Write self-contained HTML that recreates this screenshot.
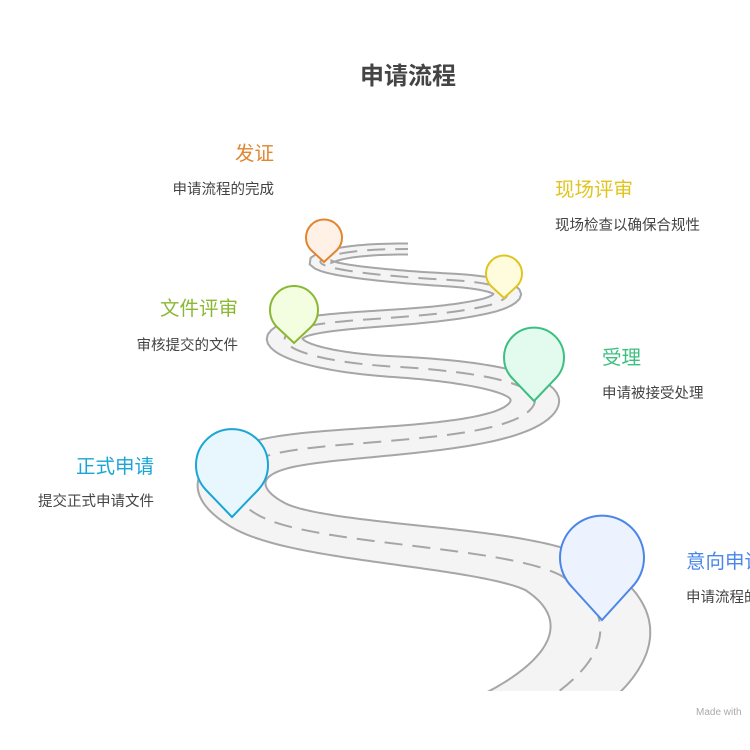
<!DOCTYPE html>
<html><head><meta charset="utf-8"><style>
body{margin:0;background:#fff;}
svg{display:block;font-family:"Liberation Sans","Noto Sans CJK SC",sans-serif;}
</style></head><body>
<svg id="s" width="750" height="750" viewBox="0 0 750 750" xmlns="http://www.w3.org/2000/svg">
<g transform="scale(1,0.5)" fill="none">
  <path id="road" fill="#f4f4f4" stroke="#a6a6a6" stroke-width="2" vector-effect="non-scaling-stroke" d=""/>
  <path id="center" stroke="#a6a6a6" stroke-width="2" vector-effect="non-scaling-stroke" stroke-dasharray="18 10" d="M512,1440 C620,1330 620,1220 560,1150 C500,1090 310,1090 258,1030 C214,980 224,920 295,900 C360,880 500,880 530,820 C555,770 480,744 400,734 C300,724 260,680 300,656 C340,634 430,640 490,610 C525,588 505,566 450,560 C380,552 300,536 325,516 C345,500 380,498 408,498"/>
</g>
<rect x="0" y="691" width="750" height="59" fill="#fff"/>
<g stroke-width="2">
  <path d="M602,620 L572,587 A42,42 0 1 1 632,587 Z" fill="#ecf3fe" stroke="#4a86e8"/>
  <path d="M232,517 L206,490 A36,36 0 1 1 258,490 Z" fill="#e8f7fd" stroke="#1aa5d6"/>
  <path d="M534,401 L513,379 A30,30 0 1 1 555,379 Z" fill="#e3fbef" stroke="#3cbf7f"/>
  <path d="M294,343 L277,327 A24,24 0 1 1 311,327 Z" fill="#f3fddf" stroke="#8ab832"/>
  <path d="M504,298 L491,286 A18,18 0 1 1 517,286 Z" fill="#fffbdd" stroke="#e0c420"/>
  <path d="M324,262 L311,250 A18,18 0 1 1 337,250 Z" fill="#fff1e5" stroke="#e08530"/>
</g>
<text x="408" y="84" text-anchor="middle" font-size="24" font-weight="bold" fill="#444">申请流程</text>
<text x="274" y="160" text-anchor="end" font-size="19.5" fill="#e08530">发证</text>
<text x="274" y="194" text-anchor="end" font-size="14.5" fill="#444">申请流程的完成</text>
<text x="555" y="196" font-size="19.5" fill="#e0c420">现场评审</text>
<text x="555" y="230" font-size="14.5" fill="#444">现场检查以确保合规性</text>
<text x="238" y="315" text-anchor="end" font-size="19.5" fill="#8ab832">文件评审</text>
<text x="238" y="350" text-anchor="end" font-size="14.5" fill="#444">审核提交的文件</text>
<text x="602" y="364" font-size="19.5" fill="#3cbf7f">受理</text>
<text x="602" y="398" font-size="14.5" fill="#444">申请被接受处理</text>
<text x="154" y="473" text-anchor="end" font-size="19.5" fill="#1aa5d6">正式申请</text>
<text x="154" y="506" text-anchor="end" font-size="14.5" fill="#444">提交正式申请文件</text>
<text x="686" y="568" font-size="19.5" fill="#4a86e8">意向申请</text>
<text x="686" y="602" font-size="14.5" fill="#444">申请流程的开始</text>
<text x="696" y="715" font-size="10" fill="#aaa">Made with</text>
</svg>
<script>
(function(){
  var c=document.getElementById('center');
  var L=c.getTotalLength(), N=400, left=[], right=[];
  for(var i=0;i<=N;i++){
    var s=L*i/N, t=i/N;
    var p=c.getPointAtLength(s);
    var a=c.getPointAtLength(Math.max(0,s-1)), b=c.getPointAtLength(Math.min(L,s+1));
    var dx=b.x-a.x, dy=b.y-a.y, d=Math.sqrt(dx*dx+dy*dy)||1;
    var nx=-dy/d, ny=dx/d;
    var w=(22+92*Math.pow(1-t,1.5))/2;
    left.push((p.x+nx*w).toFixed(1)+','+(p.y+ny*w).toFixed(1));
    right.push((p.x-nx*w).toFixed(1)+','+(p.y-ny*w).toFixed(1));
  }
  var r=document.getElementById('road');
  r.setAttribute('d','M'+left.join(' L')+' M'+right.join(' L'));
  var f=document.createElementNS('http://www.w3.org/2000/svg','path');
  f.setAttribute('d','M'+left.join(' L')+' L'+right.slice().reverse().join(' L')+' Z');
  f.setAttribute('fill','#f4f4f4');
  r.setAttribute('fill','none');
  r.parentNode.insertBefore(f,r);
})();
</script>
</body></html>
